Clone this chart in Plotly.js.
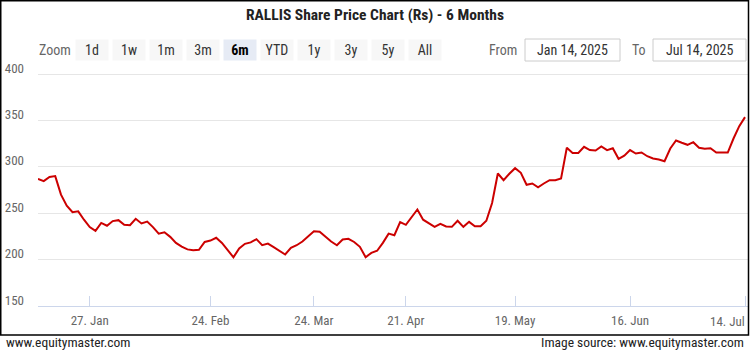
<!DOCTYPE html>
<html>
<head>
<meta charset="utf-8">
<script src="https://cdn.plot.ly/plotly-3.0.1.min.js"></script>
<style>
  html, body { margin: 0; padding: 0; background: #fff; }
  #chart { width: 750px; height: 353px; }
</style>
</head>
<body>
<div id="chart"></div>
<script>
// ---- Data ----
const startDate = '2025-01-14';
const endDate = '2025-07-14';
const holidays = ['2025-02-26', '2025-03-14', '2025-03-31', '2025-04-10', '2025-04-14', '2025-04-18', '2025-05-01'];
const specialSessions = ['2025-02-01'];

const prices = [
  287, 284.5, 289, 290, 270, 258, 251, 252, 243, 235,
  231, 239.5, 236.5, 241.5, 242.5, 237.5, 237, 244, 239, 241,
  235, 228, 229.5, 224.5, 218, 214, 211, 210, 210.5, 219,
  220.5, 223.5, 218, 210, 202.5, 212, 217, 218.5, 222, 215.5,
  217.3, 213.4, 209.5, 205.5, 212.7, 215.5, 219.5, 224.6, 230.6, 230,
  224.6, 219.5, 215.5, 221.7, 222.4, 219, 213.8, 202.6, 207.3, 209.5,
  218, 228, 226.3, 240.3, 237.5, 245.7, 254, 243, 239, 235.3,
  238.6, 235.7, 235.3, 241.8, 235.3, 240.7, 236, 236, 241.8, 261,
  292.8, 285.6, 292.5, 298.5, 293.5, 280.6, 282, 278, 282, 285.6,
  285.6, 287.4, 320.5, 315, 315, 321.5, 318, 317.6, 322, 318,
  320, 308.6, 312, 318, 314.3, 315.4, 311.4, 309, 307.9, 306,
  319.7, 328.3, 325.9, 323.7, 326.5, 320.5, 319.4, 320, 315.4, 315.7,
  315.4, 330.5, 343.8, 353.5
];

const xTickDates = ['2025-01-27', '2025-02-24', '2025-03-24', '2025-04-21', '2025-05-19', '2025-06-16', '2025-07-14'];
const xTickLabels = ['27. Jan', '24. Feb', '24. Mar', '21. Apr', '19. May', '16. Jun', '14. Jul'];
const yTickValues = [150, 200, 250, 300, 350, 400];

const zoomButtons = ['1d', '1w', '1m', '3m', '6m', 'YTD', '1y', '3y', '5y', 'All'];
const selectedButton = '6m';
const fromText = 'Jan 14, 2025';
const toText = 'Jul 14, 2025';
const titleText = 'RALLIS Share Price Chart (Rs) - 6 Months';
const footerLeft = 'www.equitymaster.com';
const footerRight = 'Image source: www.equitymaster.com';

// trading-day calendar (categories)
function tradingDays(s, e) {
  const out = [];
  const d = new Date(s + 'T00:00:00Z');
  const end = new Date(e + 'T00:00:00Z');
  while (d <= end) {
    const iso = d.toISOString().slice(0, 10);
    const wd = d.getUTCDay();
    if ((wd !== 0 && wd !== 6 && holidays.indexOf(iso) < 0) || specialSessions.indexOf(iso) >= 0) out.push(iso);
    d.setUTCDate(d.getUTCDate() + 1);
  }
  return out;
}
const dates = tradingDays(startDate, endDate);

// ---- Layout geometry ----
const W = 750, H = 353;
const M = {l: 38, r: 2, t: 64, b: 47};
const PW = W - M.l - M.r, PH = H - M.t - M.b;
const px = x => (x - M.l) / PW;
const py = y => (H - M.b - y) / PH;

const FONT = '"Liberation Sans Narrow", "Roboto Condensed", Roboto, sans-serif';

const annotations = [];
const shapes = [];

// Zoom label
annotations.push({xref: 'paper', yref: 'paper', x: px(55), y: py(50), text: 'Zoom', showarrow: false,
  xanchor: 'center', yanchor: 'middle', font: {family: FONT, size: 14, color: '#666666'}});

const btnStart = 92, btnStep = 37;
zoomButtons.forEach((b, i) => {
  const sel = b === selectedButton;
  annotations.push({xref: 'paper', yref: 'paper', x: px(btnStart + i * btnStep), y: py(50),
    text: sel ? '<b>' + b + '</b>' : b, showarrow: false, xanchor: 'center', yanchor: 'middle',
    width: 32, height: 20, bgcolor: sel ? '#e6ebf5' : '#f7f7f7', borderpad: 0,
    font: {family: FONT, size: 14, color: sel ? '#000000' : '#333333'}});
});

annotations.push({xref: 'paper', yref: 'paper', x: px(503), y: py(50), text: 'From', showarrow: false,
  xanchor: 'center', yanchor: 'middle', font: {family: FONT, size: 14, color: '#666666'}});
annotations.push({xref: 'paper', yref: 'paper', x: px(639), y: py(50), text: 'To', showarrow: false,
  xanchor: 'center', yanchor: 'middle', font: {family: FONT, size: 14, color: '#666666'}});

shapes.push({type: 'rect', xref: 'paper', yref: 'paper', x0: px(525), x1: px(620), y0: py(39), y1: py(61),
  line: {color: '#cccccc', width: 1}, fillcolor: '#ffffff', layer: 'above'});
shapes.push({type: 'rect', xref: 'paper', yref: 'paper', x0: px(653), x1: px(746), y0: py(39), y1: py(61),
  line: {color: '#cccccc', width: 1}, fillcolor: '#ffffff', layer: 'above'});
annotations.push({xref: 'paper', yref: 'paper', x: px(572.5), y: py(50), text: fromText, showarrow: false,
  xanchor: 'center', yanchor: 'middle', font: {family: FONT, size: 14, color: '#333333'}});
annotations.push({xref: 'paper', yref: 'paper', x: px(699.5), y: py(50), text: toText, showarrow: false,
  xanchor: 'center', yanchor: 'middle', font: {family: FONT, size: 14, color: '#333333'}});

// last x label kept inside the frame (as the original does)
annotations.push({xref: 'paper', yref: 'paper', x: px(747), y: py(321), text: xTickLabels[xTickLabels.length - 1],
  showarrow: false, xanchor: 'right', yanchor: 'middle', font: {family: FONT, size: 13, color: '#666666'}});

// border
shapes.push({type: 'rect', xref: 'paper', yref: 'paper', x0: px(0.75), x1: px(748.5), y0: py(0.75), y1: py(335),
  line: {color: '#000000', width: 1.5}, fillcolor: 'rgba(0,0,0,0)', layer: 'above'});

// footer
annotations.push({xref: 'paper', yref: 'paper', x: px(4), y: py(342), text: footerLeft, showarrow: false,
  xanchor: 'left', yanchor: 'middle', font: {family: FONT, size: 13.5, color: '#222222'}});
annotations.push({xref: 'paper', yref: 'paper', x: px(746), y: py(342), text: footerRight, showarrow: false,
  xanchor: 'right', yanchor: 'middle', font: {family: FONT, size: 13.5, color: '#222222'}});

const trace = {
  type: 'scatter', mode: 'lines', x: dates, y: prices,
  line: {color: '#cc0000', width: 2}, hoverinfo: 'x+y', showlegend: false
};

const xText = xTickLabels.map((t, i) => i === xTickLabels.length - 1 ? '' : t);

const layout = {
  width: W, height: H,
  margin: M,
  paper_bgcolor: '#ffffff', plot_bgcolor: '#ffffff',
  title: {text: '<b>' + titleText + '</b>', x: 0.5, xref: 'container', xanchor: 'center',
    y: 1 - 15 / H, yref: 'container', yanchor: 'middle',
    font: {family: FONT, size: 15.5, color: '#222222'}},
  xaxis: {
    type: 'category', range: [0, 123.52], tickvals: xTickDates, ticktext: xText,
    showgrid: false, zeroline: false, showline: true, linecolor: '#ccd6eb', linewidth: 1,
    ticks: 'inside', ticklen: 10, tickcolor: '#ccd6eb', tickwidth: 1,
    tickfont: {family: FONT, size: 13, color: '#666666'}, ticklabelstandoff: 2,
    fixedrange: true
  },
  yaxis: {
    range: [150, 150 + PH / 0.928], tickvals: yTickValues,
    showgrid: true, gridcolor: '#e6e6e6', gridwidth: 1, zeroline: false, showline: false,
    ticks: '', tickfont: {family: FONT, size: 13, color: '#666666'},
    ticklabelshift: -6, ticklabelstandoff: 13, fixedrange: true
  },
  annotations: annotations,
  shapes: shapes
};

Plotly.newPlot('chart', [trace], layout, {displayModeBar: false, staticPlot: true});
</script>
</body>
</html>
